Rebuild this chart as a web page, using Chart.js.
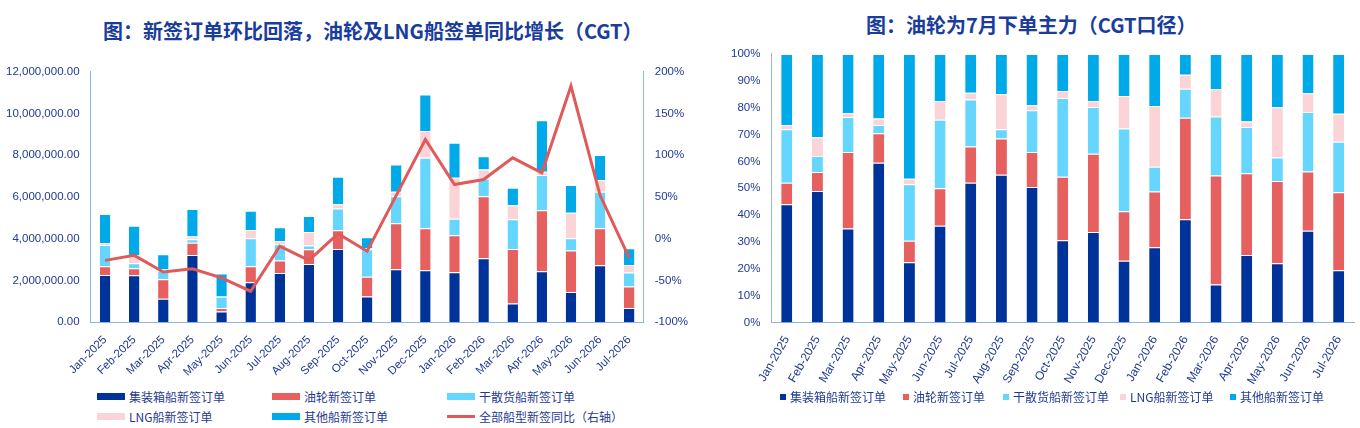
<!DOCTYPE html>
<html lang="zh">
<head>
<meta charset="UTF-8" />
<title>CGT</title>
<script src="https://cdn.jsdelivr.net/npm/chart.js"></script>
<style>
  body { margin: 0; width: 1360px; height: 428px; background: #fff; position: relative; overflow: hidden;
         font-family: "Noto Sans CJK SC", "Noto Sans", sans-serif; color: #1f3a93; }
  .title { position: absolute; font-weight: bold; font-size: 20px; color: #1a3d9c; white-space: nowrap; }
  .box { position: absolute; }
  .legend { position: absolute; font-size: 12px; color: #1f3a93; }
  .item { position: absolute; white-space: nowrap; display: flex; align-items: center; }
  .sw { display: inline-block; width: 28px; height: 7px; margin-right: 4px; }
  .ln { display: inline-block; width: 28px; height: 3px; margin-right: 4px; }
  .sq { display: inline-block; width: 6px; height: 6px; margin-right: 4px; }
</style>
</head>
<body>
<div class="title" style="left:103px;top:16px;">图：新签订单环比回落，油轮及LNG船签单同比增长（CGT）</div>
<div class="title" style="left:866px;top:10px;">图：油轮为7月下单主力（CGT口径）</div>

<div class="box" style="left:3px;top:62px;width:688px;height:320px;"><canvas id="left"></canvas></div>
<div class="box" style="left:728px;top:44px;width:632px;height:346px;"><canvas id="right"></canvas></div>

<div class="legend" id="legL"></div>
<div class="legend" id="legR"></div>

<script>
const months = ['Jan-2025','Feb-2025','Mar-2025','Apr-2025','May-2025','Jun-2025','Jul-2025','Aug-2025','Sep-2025','Oct-2025','Nov-2025','Dec-2025','Jan-2026','Feb-2026','Mar-2026','Apr-2026','May-2026','Jun-2026','Jul-2026'];
const seriesNames = ['集装箱船新签订单','油轮新签订单','干散货船新签订单','LNG船新签订单','其他船新签订单'];
const lineName = '全部船型新签同比（右轴）';
const colors = ['#003399','#e66060','#66d6ff','#fad4d6','#00aae8'];
const lineColor = '#e05a5a';

// left chart, CGT (cumulative tops, in millions)
const cumContainer = [2.26,2.25,1.12,3.22,0.51,1.91,2.36,2.79,3.51,1.23,2.54,2.49,2.39,3.06,0.89,2.44,1.44,2.73,0.67];
const cumTanker    = [2.68,2.58,2.06,3.81,0.67,2.68,2.95,3.49,4.40,2.18,4.74,4.50,4.16,6.03,3.51,5.37,3.43,4.50,1.71];
const cumBulk      = [3.70,2.82,2.47,3.97,1.21,4.02,3.73,3.67,5.45,3.49,6.04,7.88,4.96,6.89,4.93,7.05,4.02,6.25,2.38];
const cumLng       = [3.78,3.22,2.52,4.11,1.23,4.42,3.89,4.32,5.65,3.54,6.25,9.17,6.92,7.32,5.60,7.21,5.25,6.81,2.74];
const cumTotal     = [5.18,4.62,3.25,5.42,2.33,5.34,4.55,5.09,6.97,4.07,7.56,10.92,8.60,7.96,6.44,9.68,6.57,8.01,3.54];
const yoy = [-26,-20,-40,-36,-47,-63,-9,-26,6,-15,52,119,65,71,97,79,183,52,-23];

// right chart, cumulative share %
const pctContainer = [44,49,35,59.5,22.5,36,52,55,50.5,30.6,33.7,23,28,38.5,14.2,25.2,22.1,34.2,19.5];
const pctTanker    = [52,56,63.5,70.5,30.5,50,65.5,68.5,63.5,54.3,62.8,41.4,48.8,76.2,54.7,55.6,52.7,56.2,48.5];
const pctBulk      = [72,62,76.5,73.5,51.5,75.5,83,72,79,83.6,80.2,72.2,58,87,76.7,72.8,61.4,78.4,67.3];
const pctLng       = [73.5,69,78,76,53.5,82.5,85.5,85,81,86.2,82.5,84.3,80.6,92.2,86.9,74.8,80.1,85.4,77.7];

const leftTicks = [0,2e6,4e6,6e6,8e6,10e6,12e6];
const rightTicks = [-100,-50,0,50,100,150,200];

function diff(layers) {
  return layers.map((arr, k) => arr.map((v, i) => +(v - (k ? layers[k-1][i] : 0)).toFixed(2)));
}
const leftSeg = diff([cumContainer,cumTanker,cumBulk,cumLng,cumTotal]).map(a => a.map(v => v * 1e6));
const rightSeg = diff([pctContainer,pctTanker,pctBulk,pctLng,pctContainer.map(() => 100)]);

const tickFont = { family: 'Liberation Sans, Arial, sans-serif', size: 11.5 };
const axisBlue = '#1f3a93';
const gridLine = '#8fb4e0';

Chart.defaults.animation = false;
Chart.defaults.font.family = 'Liberation Sans, Arial, sans-serif';

new Chart(document.getElementById('left'), {
  data: {
    labels: months,
    datasets: [
      { type: 'line', label: lineName, data: yoy, yAxisID: 'y2', borderColor: lineColor, borderWidth: 3,
        pointRadius: 0, tension: 0, order: 0 },
      ...seriesNames.map((n, k) => ({ type: 'bar', label: n, data: leftSeg[k], backgroundColor: colors[k],
        borderColor: '#ffffff', borderWidth: { top: 1 }, barPercentage: 0.36, categoryPercentage: 1, stack: 's', order: 1 }))
    ]
  },
  options: {
    responsive: true, maintainAspectRatio: false,
    layout: { padding: { left: 0, right: 0, top: 8 } },
    plugins: { legend: { display: false }, tooltip: { enabled: false } },
    scales: {
      x: { stacked: true, grid: { display: false, drawTicks: true }, border: { color: gridLine },
           ticks: { color: axisBlue, font: tickFont, maxRotation: 45, minRotation: 45 } },
      y: { stacked: true, min: 0, max: 12e6, afterBuildTicks: a => { a.ticks = leftTicks.map(v => ({ value: v })); },
           grid: { display: false }, border: { color: gridLine },
           ticks: { color: axisBlue, font: tickFont, callback: v => v.toLocaleString('en-US', { minimumFractionDigits: 2 }) } },
      y2: { position: 'right', min: -100, max: 200, afterBuildTicks: a => { a.ticks = rightTicks.map(v => ({ value: v })); },
            grid: { display: false }, border: { color: gridLine },
            ticks: { color: axisBlue, font: tickFont, callback: v => v + '%' } }
    }
  }
});

new Chart(document.getElementById('right'), {
  type: 'bar',
  data: {
    labels: months,
    datasets: seriesNames.map((n, k) => ({ label: n, data: rightSeg[k], backgroundColor: colors[k],
      borderColor: '#ffffff', borderWidth: { top: 1 }, barPercentage: 0.36, categoryPercentage: 1 }))
  },
  options: {
    responsive: true, maintainAspectRatio: false,
    layout: { padding: { right: 6, top: 4 } },
    plugins: { legend: { display: false }, tooltip: { enabled: false } },
    scales: {
      x: { stacked: true, grid: { display: false }, border: { color: gridLine },
           ticks: { color: axisBlue, font: { family: tickFont.family, size: 12 }, maxRotation: 60, minRotation: 60 } },
      y: { stacked: true, min: 0, max: 100, grid: { display: false }, border: { color: gridLine },
           ticks: { stepSize: 10, color: axisBlue, font: tickFont, callback: v => v + '%' } }
    }
  }
});

// legends
const legL = document.getElementById('legL');
const posL = [[97,388],[272,388],[447,388],[97,408],[272,408]];
seriesNames.forEach((n, k) => {
  const d = document.createElement('div'); d.className = 'item';
  d.style.left = posL[k][0] + 'px'; d.style.top = posL[k][1] + 'px';
  d.innerHTML = '<span class="sw" style="background:' + colors[k] + '"></span>' + n;
  legL.appendChild(d);
});
const dl = document.createElement('div'); dl.className = 'item';
dl.style.left = '447px'; dl.style.top = '408px';
dl.innerHTML = '<span class="ln" style="background:' + lineColor + '"></span>' + lineName;
legL.appendChild(dl);

const legR = document.getElementById('legR');
const posR = [780, 903, 1003, 1120, 1230];
seriesNames.forEach((n, k) => {
  const d = document.createElement('div'); d.className = 'item';
  d.style.left = posR[k] + 'px'; d.style.top = '388px';
  d.innerHTML = '<span class="sq" style="background:' + colors[k] + '"></span>' + n;
  legR.appendChild(d);
});
</script>
</body>
</html>
